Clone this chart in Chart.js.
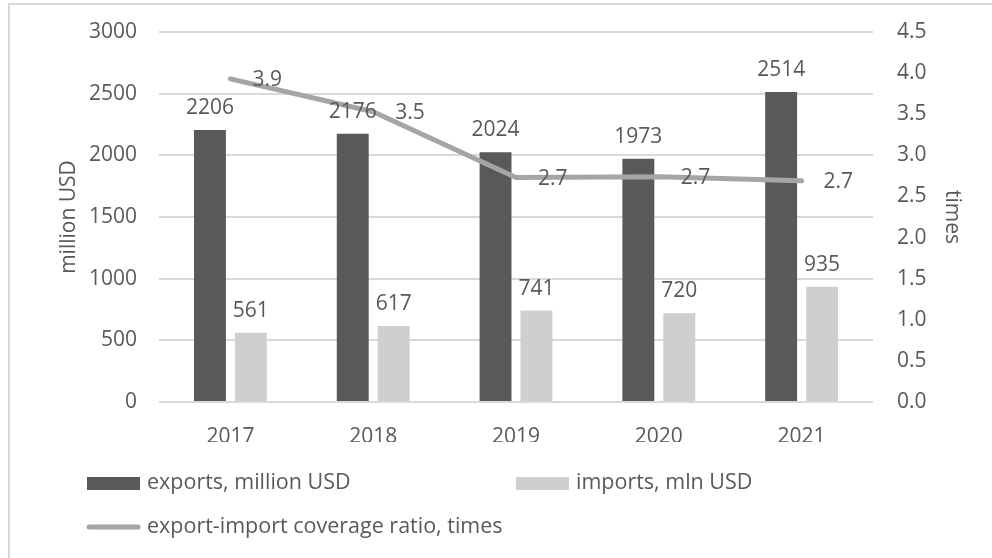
<!DOCTYPE html>
<html>
<head>
<meta charset="utf-8">
<script src="https://cdn.jsdelivr.net/npm/chart.js@4.4.1/dist/chart.umd.min.js"></script>
<style>
  body { margin: 0; background: #fff; }
  canvas { display: block; }
</style>
</head>
<body>
<canvas id="myChart" width="992" height="558"></canvas>
<script>
const years = ["2017", "2018", "2019", "2020", "2021"];
const exportsUsd = [2206, 2176, 2024, 1973, 2514];
const importsUsd = [561, 617, 741, 720, 935];
const coverage = [3.93, 3.53, 2.73, 2.74, 2.69];

const textColor = "#595959";
const fontFamily = "'Open Sans', sans-serif";

// value labels on bars and line
const valueLabels = {
  id: "valueLabels",
  afterDatasetsDraw(chart) {
    const ctx = chart.ctx;
    ctx.save();
    ctx.fillStyle = textColor;
    ctx.font = "21px " + fontFamily;
    chart.data.datasets.forEach((ds, i) => {
      const meta = chart.getDatasetMeta(i);
      meta.data.forEach((el, j) => {
        if (ds.type === "line") {
          ctx.textAlign = "left";
          ctx.textBaseline = "middle";
          ctx.fillText(ds.data[j].toFixed(1), el.x + 22, el.y + 1);
        } else {
          ctx.textAlign = "center";
          ctx.textBaseline = "alphabetic";
          ctx.fillText(ds.data[j], el.x, el.y - 16);
        }
      });
    });
    ctx.restore();
  },
};

// frame + two-row legend under the chart
const frameLegend = {
  id: "frameLegend",
  afterDraw(chart) {
    const ctx = chart.ctx;
    const ds = chart.data.datasets;
    ctx.save();
    ctx.strokeStyle = "#d9d9d9";
    ctx.lineWidth = 2;
    ctx.beginPath();
    ctx.moveTo(9, 558);
    ctx.lineTo(9, 4);
    ctx.lineTo(992, 4);
    ctx.stroke();

    ctx.font = "21.5px " + fontFamily;
    ctx.fillStyle = textColor;
    ctx.textAlign = "left";
    ctx.textBaseline = "middle";
    const items = [
      { ds: ds[1], x: 87, y: 483 },
      { ds: ds[2], x: 516, y: 483 },
      { ds: ds[0], x: 87, y: 527 },
    ];
    items.forEach((it) => {
      if (it.ds.type === "line") {
        ctx.strokeStyle = it.ds.borderColor;
        ctx.lineWidth = 5;
        ctx.lineCap = "round";
        ctx.beginPath();
        ctx.moveTo(it.x + 2, it.y);
        ctx.lineTo(it.x + 51, it.y);
        ctx.stroke();
      } else {
        ctx.fillStyle = it.ds.backgroundColor;
        ctx.fillRect(it.x, it.y - 6, 53, 13);
      }
      ctx.fillStyle = textColor;
      ctx.fillText(it.ds.label, it.x + 60, it.y);
    });
    ctx.restore();
  },
};

const data = {
  labels: years,
  datasets: [
    {
      type: "line",
      label: "export-import coverage ratio, times",
      data: coverage,
      yAxisID: "y1",
      borderColor: "#a5a5a5",
      borderWidth: 5,
      borderCapStyle: "round",
      borderJoinStyle: "round",
      pointRadius: 0,
      tension: 0,
      order: 0,
    },
    {
      type: "bar",
      label: "exports, million USD",
      data: exportsUsd,
      yAxisID: "y",
      backgroundColor: "#595959",
      categoryPercentage: 0.573,
      barPercentage: 0.78,
      order: 1,
    },
    {
      type: "bar",
      label: "imports, mln USD",
      data: importsUsd,
      yAxisID: "y",
      backgroundColor: "#d0cece",
      categoryPercentage: 0.573,
      barPercentage: 0.78,
      order: 1,
    },
  ],
};

const config = {
  data: data,
  options: {
    responsive: false,
    animation: false,
    layout: {
      padding: { top: 32, left: 0, right: 0, bottom: 116 },
    },
    plugins: {
      legend: { display: false },
      tooltip: { enabled: false },
    },
    scales: {
      x: {
        grid: { display: false },
        border: { display: false },
        ticks: {
          color: textColor,
          font: { family: fontFamily, size: 21 },
          padding: 14,
        },
        afterFit: (scale) => {
          scale.height = 40;
        },
      },
      y: {
        position: "left",
        min: 0,
        max: 3000,
        ticks: {
          stepSize: 500,
          color: textColor,
          font: { family: fontFamily, size: 21 },
          padding: 22,
          callback: (v) => String(v),
        },
        grid: { color: "#d9d9d9", lineWidth: 2, drawTicks: false },
        border: { display: false },
        title: {
          display: true,
          text: "million USD",
          color: textColor,
          font: { family: fontFamily, size: 21 },
          padding: { top: 56 },
        },
        afterFit: (scale) => {
          scale.width = 159;
          scale.paddingTop = 0;
          scale.paddingBottom = 0;
        },
      },
      y1: {
        position: "right",
        min: 0,
        max: 4.5,
        ticks: {
          stepSize: 0.5,
          color: textColor,
          font: { family: fontFamily, size: 21 },
          padding: 24,
          callback: (v) => v.toFixed(1),
        },
        grid: { drawOnChartArea: false, drawTicks: false },
        border: { display: false },
        title: {
          display: true,
          text: "times",
          color: textColor,
          font: { family: fontFamily, size: 21 },
          padding: { top: 27 },
        },
        afterFit: (scale) => {
          scale.width = 119;
          scale.paddingTop = 0;
          scale.paddingBottom = 0;
        },
      },
    },
  },
  plugins: [valueLabels, frameLegend],
};

const myChart = new Chart(document.getElementById("myChart").getContext("2d"), config);
</script>
</body>
</html>
